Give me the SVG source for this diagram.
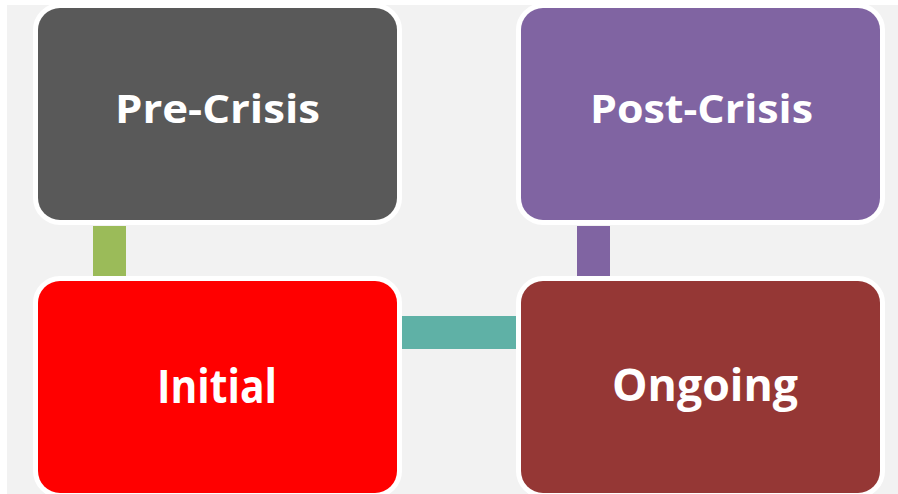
<svg xmlns="http://www.w3.org/2000/svg" width="898" height="494" viewBox="0 0 898 494">
<style>
.box{stroke:#ffffff;stroke-width:10;paint-order:stroke}
.lbl{font-family:"Open Sans","Liberation Sans",sans-serif;font-weight:700;fill:#ffffff;text-anchor:middle}
</style>
<rect x="0" y="0" width="898" height="494" fill="#ffffff"/>
<rect x="7" y="5" width="891" height="489" fill="#f2f2f2"/>
<g id="connectors">
<rect x="93" y="226" width="33" height="50" fill="#9bbb59"/>
<rect x="401" y="316" width="115" height="33" fill="#5fb1a6"/>
<rect x="577" y="226" width="33" height="50" fill="#8064a2"/>
</g>
<g id="pre-crisis">
<rect class="box" x="38" y="8" width="359" height="212" rx="22" fill="#595959"/>
<text class="lbl" x="217.5" y="123" font-size="40" textLength="205" lengthAdjust="spacingAndGlyphs">Pre-Crisis</text>
</g>
<g id="post-crisis">
<rect class="box" x="521" y="8" width="359" height="212" rx="22" fill="#8064a2"/>
<text class="lbl" x="701.5" y="123" font-size="40" textLength="223" lengthAdjust="spacingAndGlyphs">Post-Crisis</text>
</g>
<g id="initial">
<rect class="box" x="38" y="281" width="359" height="212" rx="22" fill="#ff0000"/>
<text class="lbl" x="217" y="403" font-size="46" textLength="120" lengthAdjust="spacingAndGlyphs">Initial</text>
</g>
<g id="ongoing">
<rect class="box" x="521" y="281" width="359" height="212" rx="22" fill="#953735"/>
<text class="lbl" x="705" y="401" font-size="44" textLength="186" lengthAdjust="spacingAndGlyphs">Ongoing</text>
</g>
</svg>
